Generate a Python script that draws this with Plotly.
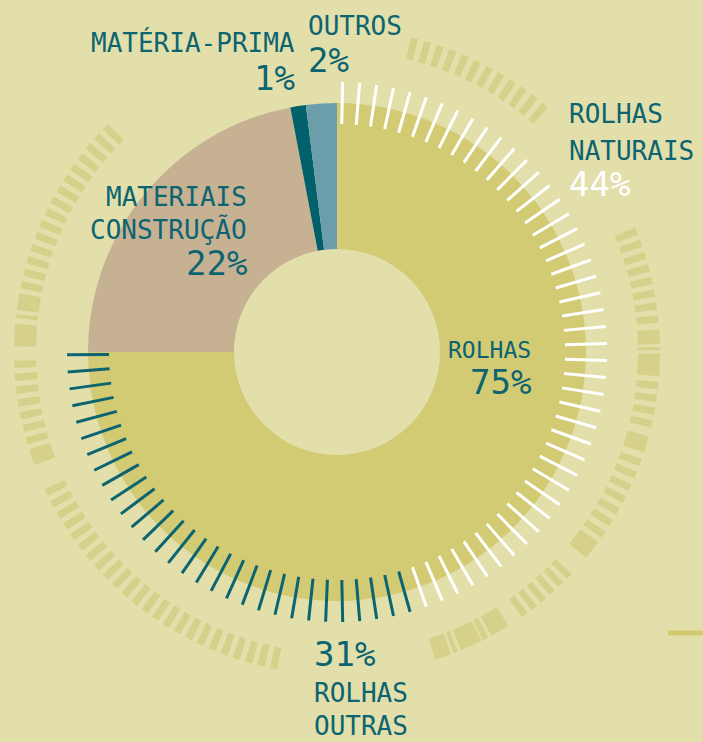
import numpy as np
import plotly.graph_objects as go

# ---------------- data ----------------
slice_labels = ["Rolhas", "Materiais construção", "Matéria-prima", "Outros"]
slice_values = [75, 22, 1, 2]
rolhas_naturais = 44
rolhas_outras = 31

# ---------------- style ----------------
BG = "#E2DFAB"
TEAL = "#0C6470"
slice_colors = ["#D2CB74", "#C6B293", "#00606B", "#6B9DAA"]
DECO = "#D5D08A"
FONT = "DejaVu Sans Mono"
W, H = 703, 742
CX, CY = 337, 352          # pixel centre of the donut
RMAX = 330

fig = go.Figure()

# donut slices
cum = np.cumsum(slice_values)
theta_c = [(c - v / 2) * 3.6 for c, v in zip(cum, slice_values)]
widths = [v * 3.6 for v in slice_values]
fig.add_trace(go.Barpolar(
    theta=theta_c, width=widths, r=[146] * len(slice_values), base=[103] * len(slice_values),
    marker=dict(color=slice_colors, line=dict(width=0)),
    hoverinfo="text", text=[f"{l}: {v}%" for l, v in zip(slice_labels, slice_values)],
    showlegend=False))

# tick marks around the "Rolhas" slice (naturais = white, outras = teal)
n_ticks = rolhas_naturais + rolhas_outras
tick_angles = np.linspace(1.2, 269.4, n_ticks)
split = (rolhas_naturais + 1) * 3.6
for col, mask in [("white", tick_angles <= split), (TEAL, tick_angles > split)]:
    rr, tt = [], []
    for a in tick_angles[mask]:
        rr += [228, 270, None]
        tt += [a, a, None]
    fig.add_trace(go.Scatterpolar(r=rr, theta=tt, mode="lines",
                                  line=dict(color=col, width=3),
                                  hoverinfo="skip", showlegend=False))

# decorative outer dashed ring
deco_groups = [  # (start, end, pitch, dash width)
    (13.9, 40.2, 2.38, 1.3),
    (68.0, 85.0, 2.3, 1.3),
    (96.0, 104.5, 2.3, 1.3),
    (110.0, 125.6, 2.4, 1.3),
    (134.0, 145.0, 2.1, 1.2),
    (191.3, 246.0, 2.3, 1.3),
    (254.0, 270.0, 2.3, 1.3),
    (282.0, 315.5, 2.3, 1.3),
]
deco_blocks = [  # (centre, width)
    (87.3, 2.6), (89.4, 0.6), (92.3, 4.0), (106.6, 3.0), (127.8, 3.5),
    (149.7, 3.5), (152.6, 1.0), (155.4, 4.0), (158.4, 0.8), (160.8, 3.0),
    (251.0, 3.0), (273.0, 4.0), (276.4, 0.7), (279.0, 3.0),
]
dth, dw = [], []
for s, e, p, w in deco_groups:
    for a in np.arange(s, e + 0.01, p):
        dth.append(a)
        dw.append(w)
for c, w in deco_blocks:
    dth.append(c)
    dw.append(w)
fig.add_trace(go.Barpolar(theta=dth, width=dw, r=[22] * len(dth), base=[301] * len(dth),
                          marker=dict(color=DECO, line=dict(width=0)),
                          hoverinfo="skip", showlegend=False))

fig.update_layout(
    width=W, height=H, margin=dict(l=0, r=0, t=0, b=0),
    paper_bgcolor=BG, plot_bgcolor=BG, showlegend=False,
    polar=dict(
        domain=dict(x=[(CX - RMAX) / W, (CX + RMAX) / W],
                    y=[(H - CY - RMAX) / H, (H - CY + RMAX) / H]),
        bgcolor="rgba(0,0,0,0)", hole=0,
        radialaxis=dict(visible=False, range=[0, RMAX]),
        angularaxis=dict(visible=False, direction="clockwise", rotation=90),
        barmode="overlay", bargap=0,
    ),
)

def ann(text, x, y, size, anchor, color=TEAL):
    fig.add_annotation(text=text, x=x / W, y=1 - y / H, xref="paper", yref="paper",
                       xanchor=anchor, yanchor="middle", showarrow=False,
                       font=dict(family=FONT, size=size, color=color))

LS, NS = 26, 34
ann("OUTROS", 306, 26, LS, "left")
ann(f"{slice_values[3]}%", 306, 60, NS, "left")
ann("MATÉRIA-PRIMA", 297, 43, LS, "right")
ann(f"{slice_values[2]}%", 297, 78, NS, "right")
ann("MATERIAIS", 249, 197, LS, "right")
ann("CONSTRUÇÃO", 249, 230, LS, "right")
ann(f"{slice_values[1]}%", 249, 263, NS, "right")
ann("ROLHAS", 533, 350, 23, "right")
ann(f"{slice_values[0]}%", 533, 382, NS, "right")
ann("ROLHAS", 567, 114, LS, "left")
ann("NATURAIS", 567, 151, LS, "left")
ann(f"{rolhas_naturais}%", 567, 184, NS, "left", color="white")
ann(f"{rolhas_outras}%", 312, 654, NS, "left")
ann("ROLHAS", 312, 693, LS, "left")
ann("OUTRAS", 312, 726, LS, "left")

# small decorative line at bottom right
fig.add_shape(type="line", xref="paper", yref="paper",
              x0=668 / W, x1=1, y0=1 - 633 / H, y1=1 - 633 / H,
              line=dict(color="#D3C96E", width=5))

fig.write_html("out.html", config={"displayModeBar": False},
               post_script="document.body.style.margin='0';document.body.style.overflow='hidden';")
